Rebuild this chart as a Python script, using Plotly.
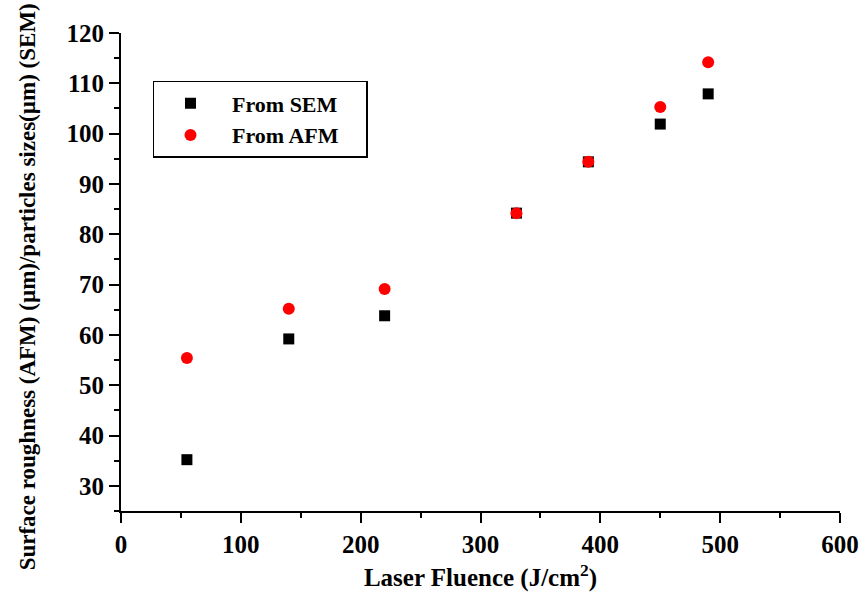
import plotly.graph_objects as go

fluence = [55, 140, 220, 330, 390, 450, 490]
sem_size = [35.2, 59.2, 63.8, 84.2, 94.4, 101.9, 107.9]
afm_rough = [55.4, 65.2, 69.1, 84.2, 94.4, 105.3, 114.2]

FONT = "Liberation Serif"

fig = go.Figure()
fig.add_trace(go.Scatter(
    x=fluence, y=sem_size, mode="markers", name="\u00a0From SEM\u00a0\u00a0\u00a0\u00a0",
    marker=dict(symbol="square", size=11, color="black"),
))
fig.add_trace(go.Scatter(
    x=fluence, y=afm_rough, mode="markers", name="\u00a0From AFM\u00a0\u00a0\u00a0\u00a0",
    marker=dict(symbol="circle", size=12, color="red"),
))

axis_common = dict(
    showline=True, linecolor="black", linewidth=2, showgrid=False, zeroline=False,
    ticks="outside", ticklen=10, tickwidth=2, tickcolor="black", automargin=False,
    tickfont=dict(family=FONT, size=25, color="black", weight="bold"),
    minor=dict(ticks="outside", ticklen=5, tickwidth=2, tickcolor="black", showgrid=False),
)

fig.update_xaxes(range=[0, 600], dtick=100, tick0=0, minor_dtick=50, **axis_common,
                 title=dict(text="Laser Fluence (J/cm<sup>2</sup>)",
                            font=dict(family=FONT, size=25, color="black", weight="bold"),
                            standoff=14))
fig.update_yaxes(range=[25, 120], dtick=10, tick0=0, minor_dtick=5, **axis_common)

fig.add_annotation(
    text="Surface roughness (AFM) (\u00b5m)/particles sizes(\u00b5m) (SEM)",
    xref="paper", yref="paper", x=-0.13, y=0.469, xanchor="center", yanchor="middle",
    textangle=-90, showarrow=False,
    font=dict(family=FONT, size=23, color="black", weight="bold"),
)

fig.update_layout(
    width=864, height=592,
    margin=dict(l=121, r=24, t=33, b=81),
    plot_bgcolor="white", paper_bgcolor="white",
    showlegend=True,
    legend=dict(x=0.0445, y=0.8996, xanchor="left", yanchor="top",
                bordercolor="black", borderwidth=1.5, bgcolor="white",
                font=dict(family=FONT, size=22, color="black", weight="bold"),
                itemwidth=62, tracegroupgap=0),
)

fig.write_html("out.html")
